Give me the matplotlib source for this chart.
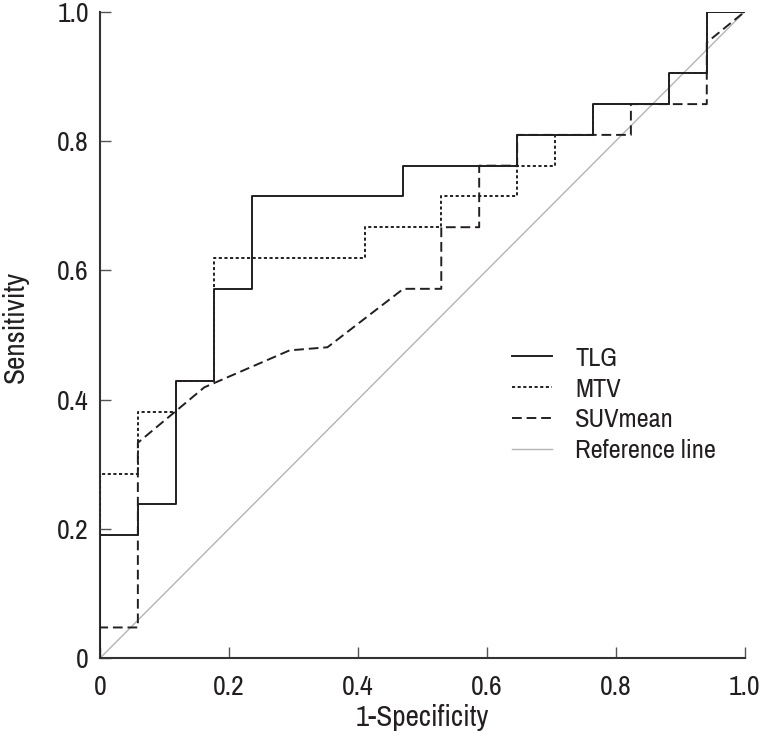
import matplotlib
matplotlib.use('Agg')
import matplotlib.pyplot as plt
from matplotlib import font_manager
from matplotlib.ticker import FixedLocator, FuncFormatter

# use a condensed face if one is installed, otherwise plain Liberation Sans
names = sorted({f.name for f in font_manager.fontManager.ttflist})
narrow = [n for n in names if 'Narrow' in n or 'Condensed' in n]
plt.rcParams['font.family'] = narrow[:1] + ['Liberation Sans', 'DejaVu Sans']
big = 20 if narrow else 18

# ROC curve coordinates (1-specificity, sensitivity)
tlg_x = [0, 0, 0.0588, 0.0588, 0.1176, 0.1176, 0.1765, 0.1765, 0.2353, 0.2353,
         0.4706, 0.4706, 0.6471, 0.6471, 0.7647, 0.7647, 0.8824, 0.8824, 0.9412, 0.9412, 1.0]
tlg_y = [0, 0.1905, 0.1905, 0.2381, 0.2381, 0.4286, 0.4286, 0.5714, 0.5714, 0.7143,
         0.7143, 0.7619, 0.7619, 0.8095, 0.8095, 0.8571, 0.8571, 0.9048, 0.9048, 1.0, 1.0]

mtv_x = [0, 0, 0.0588, 0.0588, 0.1176, 0.1176, 0.1765, 0.1765, 0.4118, 0.4118,
         0.5294, 0.5294, 0.6471, 0.6471, 0.7059, 0.7059, 0.7647, 0.7647, 0.8824, 0.8824,
         0.9412, 0.9412, 1.0]
mtv_y = [0, 0.2857, 0.2857, 0.3810, 0.3810, 0.4286, 0.4286, 0.6190, 0.6190, 0.6667,
         0.6667, 0.7143, 0.7143, 0.7619, 0.7619, 0.8095, 0.8095, 0.8571, 0.8571, 0.9048,
         0.9048, 1.0, 1.0]

suv_x = [0, 0, 0.0588, 0.0588, 0.1618, 0.2941, 0.3529, 0.4706, 0.5294, 0.5294,
         0.5882, 0.5882, 0.6471, 0.6471, 0.8235, 0.8235, 0.9412, 0.9412, 1.0]
suv_y = [0, 0.0476, 0.0476, 0.3333, 0.4190, 0.4762, 0.4810, 0.5714, 0.5714, 0.6667,
         0.6667, 0.7619, 0.7619, 0.8095, 0.8095, 0.8571, 0.8571, 0.9524, 1.0]

ref_x = [0, 1]
ref_y = [0, 1]

ticks = [0, 0.2, 0.4, 0.6, 0.8, 1.0]

fig = plt.figure(figsize=(7.63, 7.33), dpi=100)
ax = fig.add_axes([0.131, 0.102, 0.845, 0.882])

ax.plot(ref_x, ref_y, color='#b4b4b4', lw=1.0, label='Reference line', zorder=1)
ax.plot(suv_x, suv_y, color='#231f20', lw=1.4, ls=(0, (5, 2.5)), label='SUVmean', zorder=2)
ax.plot(mtv_x, mtv_y, color='#231f20', lw=1.4, ls=(0, (1.6, 1.3)), label='MTV', zorder=3)
ax.plot(tlg_x, tlg_y, color='#231f20', lw=1.4, label='TLG', zorder=4)

ax.set_xlim(0, 1.0)
ax.set_ylim(0, 1.0)
fmt = FuncFormatter(lambda v, p: '0' if v == 0 else f'{v:.1f}')
ax.xaxis.set_major_locator(FixedLocator(ticks))
ax.yaxis.set_major_locator(FixedLocator(ticks))
ax.xaxis.set_major_formatter(fmt)
ax.yaxis.set_major_formatter(fmt)
ax.tick_params(direction='in', length=8, width=1, color='#555555',
               labelsize=big, labelcolor='#231f20', pad=8)
ax.tick_params(axis='x', pad=12)

for s in ['top', 'right']:
    ax.spines[s].set_visible(False)
for s in ['left', 'bottom']:
    ax.spines[s].set_linewidth(1.5)
    ax.spines[s].set_color('#333333')

ax.set_xlabel('1-Specificity', fontsize=big + 1, color='#231f20', labelpad=3)
ax.set_ylabel('Sensitivity', fontsize=big + 1, color='#231f20')
ax.yaxis.set_label_coords(-0.111, 0.512)

h, l = ax.get_legend_handles_labels()
order = [3, 2, 1, 0]
ax.legend([h[i] for i in order], [l[i] for i in order], loc='upper left',
          bbox_to_anchor=(0.639, 0.482), frameon=False, fontsize=big - 1,
          handlelength=1.5, handletextpad=0.9, labelspacing=0.3,
          borderpad=0, borderaxespad=0, labelcolor='#231f20')

fig.savefig('out.png', dpi=100)
